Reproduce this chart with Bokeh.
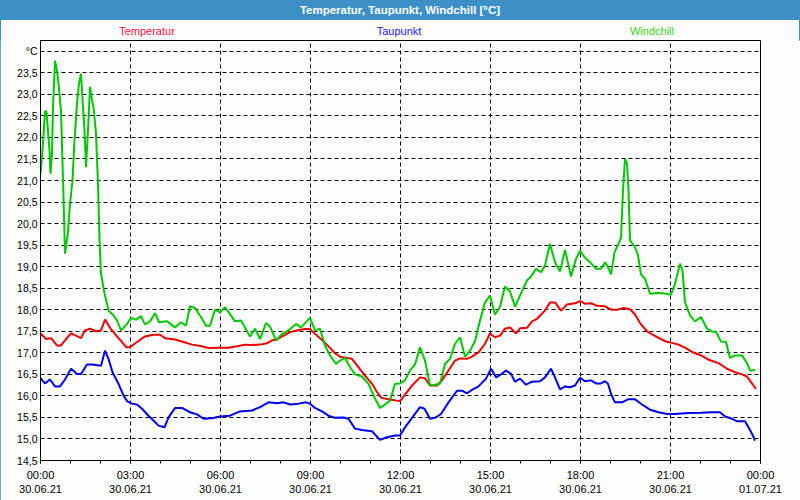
import pandas as pd
from bokeh.plotting import figure
from bokeh.layouts import column
from bokeh.models import (ColumnDataSource, FixedTicker, CustomJSTickFormatter, Div, Range1d)
from bokeh.embed import file_html
from bokeh.resources import INLINE

# ---------------- data (minutes after 30.06.21 00:00, °C) ----------------
temp_min = [0, 11, 21, 33, 41, 51, 61, 71, 81, 89, 99, 111, 121, 129, 139, 153, 163, 171, 179, 193,
            209, 226, 239, 249, 269, 286, 303, 323, 336,
            359, 376, 393, 409, 419, 439, 453, 463, 473, 486, 499, 516, 529, 539, 549, 563, 576, 589,
            599, 613, 623, 633, 649, 663, 673, 681, 693, 713,
            719, 729, 743, 759, 769, 779, 793, 803, 816, 829, 839, 853, 863, 876, 889, 899, 909, 919,
            929, 939, 951, 959, 973, 983, 993, 1009, 1019, 1029, 1041, 1053, 1069,
            1079, 1089, 1101, 1113, 1129, 1141, 1153, 1166, 1179, 1189, 1199, 1213, 1229, 1249, 1263,
            1276, 1289, 1303, 1319, 1336, 1356, 1373, 1389, 1403, 1413, 1421, 1431]
temperatur = [17.45, 17.32, 17.34, 17.17, 17.17, 17.32, 17.45, 17.40, 17.34, 17.52, 17.56, 17.50, 17.52,
              17.77, 17.58, 17.38, 17.25, 17.13, 17.13, 17.25, 17.38, 17.42, 17.42, 17.34, 17.31, 17.25,
              17.19, 17.15, 17.11,
              17.12, 17.12, 17.15, 17.19, 17.18, 17.19, 17.22, 17.29, 17.31, 17.40, 17.48, 17.53, 17.55,
              17.55, 17.44, 17.30, 17.15, 16.99, 16.91, 16.88, 16.86, 16.71, 16.47, 16.28, 16.09, 15.96,
              15.93, 15.89,
              15.88, 16.03, 16.24, 16.43, 16.41, 16.24, 16.24, 16.36, 16.59, 16.82, 16.87, 16.86, 16.91,
              17.01, 17.21, 17.45, 17.36, 17.40, 17.56, 17.59, 17.45, 17.57, 17.58, 17.73, 17.79, 17.98,
              18.17, 18.17, 17.98, 18.12, 18.15,
              18.20, 18.14, 18.15, 18.09, 18.08, 18.00, 18.00, 18.04, 18.01, 17.89, 17.69, 17.50, 17.39,
              17.27, 17.23, 17.19, 17.12, 17.02, 16.95, 16.84, 16.76, 16.63, 16.55, 16.50, 16.45, 16.32,
              16.16]

taup_min = [0, 9, 19, 29, 39, 49, 61, 73, 81, 93, 103, 121, 129, 136, 144, 156, 166, 173, 183, 193,
            203, 216, 226, 236, 248, 256, 269, 283, 299, 313, 326, 343,
            359, 379, 399, 423, 439, 456, 473, 486, 499, 516, 531, 539, 549, 563, 576, 589, 606, 616,
            629, 643, 663, 679, 693, 709,
            719, 729, 743, 759, 768, 779, 789, 801, 816, 833, 843, 853, 863, 876, 891, 901, 911, 921,
            931, 941, 949, 959, 971, 983, 999, 1009, 1021, 1029, 1039, 1049, 1059, 1069,
            1079, 1089, 1101, 1111, 1121, 1129, 1135, 1141, 1149, 1163, 1175, 1189, 1203, 1219, 1236,
            1253, 1269, 1296, 1321, 1343, 1359, 1369, 1383, 1393, 1409, 1416, 1424, 1429]
taupunkt = [16.41, 16.29, 16.38, 16.22, 16.22, 16.38, 16.63, 16.51, 16.51, 16.73, 16.73, 16.70, 17.05,
            16.86, 16.55, 16.28, 16.01, 15.88, 15.82, 15.80, 15.70, 15.54, 15.43, 15.31, 15.27, 15.50,
            15.72, 15.72, 15.62, 15.57, 15.47, 15.48,
            15.52, 15.54, 15.64, 15.66, 15.74, 15.85, 15.83, 15.85, 15.80, 15.82, 15.85, 15.82, 15.72,
            15.64, 15.54, 15.49, 15.50, 15.47, 15.24, 15.21, 15.18, 14.98, 15.04, 15.08,
            15.08, 15.27, 15.49, 15.74, 15.70, 15.47, 15.49, 15.58, 15.85, 16.12, 16.12, 16.06, 16.14,
            16.22, 16.40, 16.63, 16.43, 16.50, 16.59, 16.51, 16.33, 16.40, 16.26, 16.33, 16.34, 16.43,
            16.63, 16.43, 16.15, 16.22, 16.20, 16.24,
            16.42, 16.34, 16.36, 16.29, 16.29, 16.34, 16.28, 16.05, 15.85, 15.85, 15.92, 15.92, 15.80,
            15.68, 15.62, 15.58, 15.58, 15.60, 15.61, 15.62, 15.62, 15.52, 15.47, 15.41, 15.41, 15.27,
            15.10, 14.96]

wind_min = [0, 4, 9, 12, 16, 18, 20, 23, 25, 29, 33, 36, 41, 46, 49, 55, 59, 64, 68, 73,
            77, 81, 85, 88, 91, 95, 99, 103, 106, 111, 115, 118, 121, 128, 136, 146, 153, 161, 173, 181,
            191, 201, 209, 219, 229, 237, 253, 269, 281, 291, 299, 309, 321, 331, 339, 349,
            359, 369, 389, 401, 419, 429, 439, 451, 459, 471, 483, 496, 511, 521, 539, 549, 559, 569,
            579, 591, 599, 609, 619, 629, 643, 656, 666, 679, 689, 699, 709,
            719, 729, 739, 749, 759, 769, 779, 789, 799, 809, 819, 829, 839, 849, 859, 869, 879, 889,
            899, 909, 919, 929, 939, 949, 961, 973, 981, 991, 1001, 1009, 1019, 1029, 1039, 1049, 1061,
            1071,
            1079, 1089, 1101, 1111, 1121, 1129, 1135, 1141, 1148, 1156, 1161, 1165, 1169, 1173, 1176,
            1179, 1189, 1195, 1201, 1209, 1219, 1233, 1246, 1261, 1269, 1279, 1284, 1289, 1299, 1309,
            1321, 1333, 1343, 1351, 1361, 1371, 1379, 1389, 1403, 1413, 1419, 1429]
windchill = [21.15, 21.70, 22.61, 22.60, 22.00, 21.70, 21.16, 21.63, 22.70, 23.78, 23.55, 23.25, 22.62,
             20.61, 19.30, 19.80, 20.47, 21.00, 21.93, 22.79, 23.25, 23.48, 22.70, 22.16, 21.31, 22.16,
             23.17, 22.86, 22.70, 22.09, 20.92, 19.61, 18.84, 18.38, 17.98, 17.87, 17.75, 17.52, 17.67,
             17.81, 17.77, 17.85, 17.66, 17.73, 17.92, 17.71, 17.73, 17.59, 17.71, 17.63, 18.08, 18.04,
             17.83, 17.63, 17.63, 18.00,
             17.94, 18.06, 17.73, 17.75, 17.38, 17.56, 17.32, 17.69, 17.61, 17.29, 17.44, 17.52, 17.67,
             17.59, 17.81, 17.52, 17.56, 17.17, 16.94, 16.74, 16.82, 16.88, 16.67, 16.50, 16.45, 16.28,
             16.01, 15.72, 15.80, 15.89, 16.28,
             16.29, 16.36, 16.59, 16.73, 17.13, 16.82, 16.24, 16.26, 16.28, 16.74, 16.86, 17.21, 17.36,
             16.91, 17.05, 17.27, 17.75, 18.17, 18.33, 17.89, 18.07, 18.54, 18.43, 18.07, 18.38, 18.68,
             18.77, 18.95, 18.87, 19.03, 19.53, 19.10, 18.89, 19.39, 18.77, 19.18,
             19.37, 19.21, 19.08, 18.95, 18.95, 19.10, 18.99, 18.82, 19.33, 19.53, 19.68, 20.77, 21.50,
             21.39, 20.77, 19.61, 19.45, 19.26, 18.82, 18.72, 18.37, 18.39, 18.38, 18.35, 18.60, 19.07,
             18.91, 18.17, 17.87, 17.73, 17.83, 17.56, 17.49, 17.49, 17.26, 17.25, 16.88, 16.94, 16.94,
             16.76, 16.59, 16.60]

series_names = ["Temperatur", "Taupunkt", "Windchill"]
line_colors = ["#f00000", "#0000f0", "#00c800"]
label_colors = ["#ff1040", "#2020ff", "#40d020"]
title_text = "Temperatur, Taupunkt, Windchill [°C]"
y_ticks = [14.5 + 0.5 * i for i in range(20)]
start = pd.Timestamp("2021-06-30 00:00")

BG = "#fcfcfc"
BLUE = "#3d90c6"
FONT = "Liberation Sans"

# ---------------- header: title bar + series captions ----------------
caption_spans = "".join(
    f'<span style="position:absolute;left:{xc}px;top:25px;transform:translateX(-50%);'
    f'color:{col};font-size:11px;line-height:13px;white-space:nowrap;">{name}</span>'
    for name, col, xc in zip(series_names, label_colors, [147, 399, 652])
)
header_html = (
    f'<div style="position:relative;width:800px;height:40px;background:{BG};'
    f"font-family:'{FONT}',sans-serif;margin:0;padding:0;\">"
    f'<div style="position:absolute;left:0;top:0;width:800px;height:20px;background:{BLUE};'
    f'color:white;font-weight:bold;font-size:11.5px;line-height:20px;text-align:center;">'
    f'{title_text}</div>'
    f'<div style="position:absolute;left:0;top:0;width:1px;height:40px;background:{BLUE};"></div>'
    f'<div style="position:absolute;right:0;top:0;width:1px;height:40px;background:{BLUE};"></div>'
    f'{caption_spans}</div>'
)
header = Div(text=header_html, width=800, height=40, margin=(0, 0, 0, 0),
             styles={"margin": "0", "padding": "0"})

# ---------------- figure ----------------
p = figure(frame_width=720, frame_height=420, x_axis_type="datetime",
           output_backend="svg", toolbar_location=None,
           min_border_left=40, min_border_right=40, min_border_top=0, min_border_bottom=40,
           background_fill_color=BG, border_fill_color=BG,
           outline_line_color="black", outline_line_width=1, margin=(0, 0, 0, 0))

p.x_range = Range1d(start, start + pd.Timedelta(hours=24))
p.y_range = Range1d(14.5, 24.25)


def times(mins):
    return [start + pd.Timedelta(minutes=m) for m in mins]


for mins, vals, col in [(temp_min, temperatur, line_colors[0]),
                        (taup_min, taupunkt, line_colors[1]),
                        (wind_min, windchill, line_colors[2])]:
    src = ColumnDataSource(dict(t=times(mins), v=vals))
    p.line("t", "v", source=src, line_color=col, line_width=2)

# x axis: major ticks every 3 h, minor every hour
ms = lambda ts: ts.timestamp() * 1000.0
major = [ms(start + pd.Timedelta(hours=3 * i)) for i in range(9)]
minor = [ms(start + pd.Timedelta(hours=i)) for i in range(25)]
p.xaxis.ticker = FixedTicker(ticks=major, minor_ticks=minor)
p.xaxis.formatter = CustomJSTickFormatter(code="""
const d = new Date(tick);
const f = (n) => String(n).padStart(2, "0");
return f(d.getUTCHours()) + ":" + f(d.getUTCMinutes()) + "\\n" +
       f(d.getUTCDate()) + "." + f(d.getUTCMonth() + 1) + "." + String(d.getUTCFullYear()).slice(2);
""")
p.yaxis.ticker = FixedTicker(ticks=y_ticks)
p.yaxis.formatter = CustomJSTickFormatter(code="""
if (tick > 23.99) return "\u00b0C";
return tick.toFixed(1).replace(".", ",");
""")

for ax in (p.xaxis[0], p.yaxis[0]):
    ax.axis_line_color = "black"
    ax.major_label_text_font = FONT
    ax.major_label_text_color = "black"
    ax.major_tick_in = 0
    ax.minor_tick_in = 0
p.xaxis.major_label_text_font_size = "11px"
p.yaxis.major_label_text_font_size = "10.5px"
p.xaxis.major_tick_out = 3
p.xaxis.minor_tick_out = 3
p.xaxis.major_tick_line_color = "black"
p.xaxis.minor_tick_line_color = "black"
p.xaxis.major_label_standoff = 5
p.yaxis.major_tick_out = 0
p.yaxis.minor_tick_out = 0
p.yaxis.major_label_standoff = 3

for g in (p.xgrid[0], p.ygrid[0]):
    g.grid_line_color = "black"
    g.grid_line_dash = "4 3"
    g.grid_line_width = 1
    g.grid_line_alpha = 1.0

layout = column(header, p, spacing=0, margin=(0, 0, 0, 0),
                styles={"background": BG, "outline": f"1px solid {BLUE}",
                        "outline-offset": "-1px"})

open("out.html", "w").write(file_html(layout, INLINE))
